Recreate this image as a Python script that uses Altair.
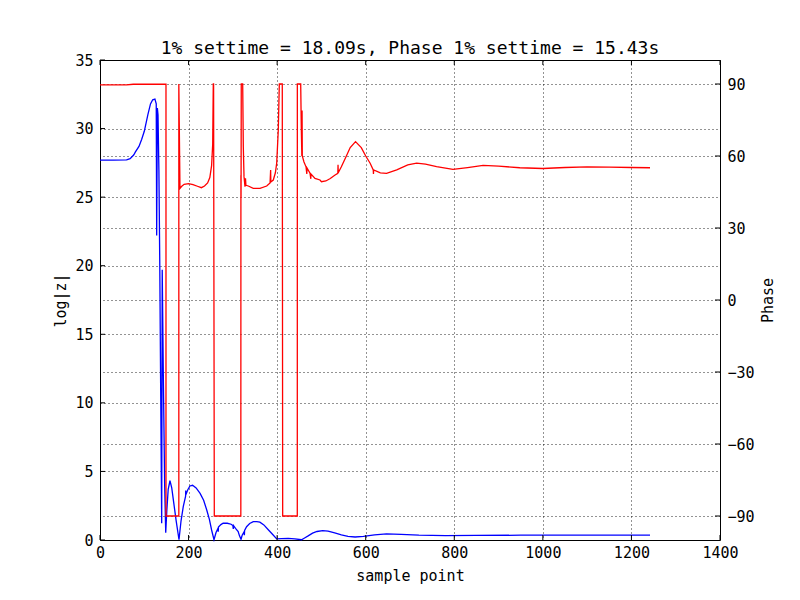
import altair as alt
import pandas as pd

# log|z| series (blue, left axis)
mag_x = [0, 30, 60, 68, 76, 80, 88, 94, 100, 108, 114, 119, 124, 127, 128, 129.5, 131,
         133, 135, 137, 139.3, 140.5, 143, 146, 148.4, 151, 154, 158, 162, 167, 172,
         178.4, 183, 188, 193.3, 193.5, 193.8, 198, 203, 209, 217, 226, 234, 241, 247,
         252, 257.4, 262, 266.5, 267, 267.5, 273, 278, 287.5, 296, 300, 301, 301.5,
         306, 312, 315, 318.4, 321, 325.5, 326, 326.5, 331, 338, 346, 354, 361, 370,
         380, 390, 399, 410, 425, 440, 455, 462, 470, 480, 490, 503, 515, 530, 545,
         560, 576, 595, 620, 647, 680, 720, 780, 850, 950, 1050, 1150, 1242]
mag_y = [27.7, 27.7, 27.72, 27.8, 28.07, 28.3, 28.7, 29.2, 29.8, 31.0, 31.8, 32.1, 32.15,
         31.8, 22.2, 31.5, 31.0, 27.0, 20.0, 11.0, 1.22, 19.7, 12.0, 4.0, 0.53, 2.2,
         3.7, 4.32, 3.8, 2.6, 1.4, 0.02, 1.4, 2.43, 3.2, 3.6, 3.3, 3.65, 3.94, 3.99,
         3.8, 3.4, 2.9, 2.19, 1.5, 0.73, 0.02, 0.55, 0.85, 0.6, 0.95, 1.12, 1.22, 1.22,
         1.15, 1.05, 0.8, 1.05, 0.85, 0.61, 0.3, 0.05, 0.35, 0.6, 0.35, 0.7, 0.97, 1.2,
         1.34, 1.34, 1.3, 1.1, 0.75, 0.4, 0.08, 0.1, 0.12, 0.08, 0.02, 0.15, 0.3, 0.5,
         0.62, 0.68, 0.64, 0.52, 0.38, 0.27, 0.22, 0.27, 0.37, 0.44, 0.41, 0.35, 0.32,
         0.33, 0.35, 0.35, 0.35, 0.35]

# Phase series (red, right axis)
ph_x = [0, 60, 75, 149, 149, 178, 178, 180.6, 184, 190, 200, 210, 220, 229, 236, 243,
        248, 252, 254.5, 255.8, 256.5, 258.1, 318, 318.2, 318.5, 319, 322.2, 323.6,
        325.2, 327.4, 328.5, 329.5, 334.9, 346, 361.3, 376.4, 384, 385.3, 385.8, 391.3,
        396, 399, 402.6, 404.9, 411.6, 412.5, 445.5, 445.6, 453.2, 454.5, 455.8, 456.3,
        456.8, 460.6, 465.2, 467, 467.5, 474.2, 476, 476.5, 485.5, 496.8, 500, 510, 520,
        530, 537, 537.5, 538, 545, 555, 565, 577, 590, 600, 610, 617, 617.5, 618, 633,
        647, 670, 695, 715, 735, 760, 797, 830, 865, 900, 948, 1000, 1050, 1100, 1150,
        1200, 1242]
ph_y = [89.6, 89.6, 89.9, 89.9, -90, -90, 90, 46.5, 47.3, 48.2, 48.5, 48.1, 47.4, 46.8,
        47.5, 48.8, 51, 56, 65, 90, 90, -90, -90, 52, 42.5, 90, 90, 63.9, 51.4, 47.2,
        50.7, 47.8, 47.5, 46.5, 46.5, 47.5, 48.8, 54.2, 49.2, 50, 53, 57, 70.8, 90, 90,
        -90, -90, 90, 90, 72, 60, 79, 60, 57.5, 55.5, 52.5, 55, 52.8, 50.5, 52.5, 50.7,
        50, 49.3, 49.6, 50.6, 52, 52.8, 56.3, 53, 55.5, 59.5, 63.5, 66, 63.5, 60, 57,
        54.2, 52.5, 54.2, 53, 52.8, 54.2, 56.3, 57, 56.6, 55.6, 54.4, 55.2, 56.1, 55.8,
        55.1, 54.8, 55.2, 55.5, 55.4, 55.2, 55.1]

x_ticks = [0, 200, 400, 600, 800, 1000, 1200, 1400]
mag_ticks = [0, 5, 10, 15, 20, 25, 30, 35]
ph_ticks = [-90, -60, -30, 0, 30, 60, 90]

FONT = "DejaVu Sans Mono"
W, H = 620, 480

mag_df = pd.DataFrame({"x": mag_x, "y": mag_y, "i": range(len(mag_x))})
ph_df = pd.DataFrame({"x": ph_x, "p": ph_y, "i": range(len(ph_x))})
xt_df = pd.DataFrame({"x": x_ticks})
mt_df = pd.DataFrame({"y": mag_ticks})
pt_df = pd.DataFrame({"p": ph_ticks})

xscale = alt.Scale(domain=[0, 1400], nice=False, zero=False)
mscale = alt.Scale(domain=[0, 35], nice=False)
pscale = alt.Scale(domain=[-100, 100], nice=False)

common_axis = dict(
    labelFont=FONT, labelFontSize=15, labelColor="black", labelFlush=False,
    titleFont=FONT, titleFontSize=15, titleColor="black", titleFontWeight="normal",
    domain=False, ticks=False, grid=True, gridColor="black", gridDash=[1, 3],
    gridWidth=1, gridOpacity=0.85, format="d",
)

x_axis = alt.Axis(values=x_ticks, title="sample point", labelPadding=5,
                  titlePadding=8, **common_axis)
m_axis = alt.Axis(values=mag_ticks, title="log|z|", orient="left",
                  labelPadding=7, titlePadding=6, **common_axis)
p_axis = alt.Axis(values=ph_ticks, title="Phase", orient="right", titleAngle=270,
                  titleBaseline="top",
                  labelPadding=7, titlePadding=6, **common_axis)

blue = alt.Chart(mag_df).mark_line(color="#0000ff", strokeWidth=1.3).encode(
    x=alt.X("x:Q", scale=xscale, axis=x_axis),
    y=alt.Y("y:Q", scale=mscale, axis=m_axis),
    order=alt.Order("i:Q"),
)

xt_bottom = alt.Chart(xt_df).mark_rule(color="black", strokeWidth=1).encode(
    x=alt.X("x:Q", scale=xscale, axis=x_axis), y=alt.value(H), y2=alt.value(H - 5))
xt_top = alt.Chart(xt_df).mark_rule(color="black", strokeWidth=1).encode(
    x=alt.X("x:Q", scale=xscale, axis=x_axis), y=alt.value(0), y2=alt.value(5))
mt = alt.Chart(mt_df).mark_rule(color="black", strokeWidth=1).encode(
    y=alt.Y("y:Q", scale=mscale, axis=m_axis), x=alt.value(0), x2=alt.value(5))

red = alt.Chart(ph_df).mark_line(color="#ff0000", strokeWidth=1.3).encode(
    x=alt.X("x:Q", scale=xscale, axis=x_axis),
    y=alt.Y("p:Q", scale=pscale, axis=p_axis),
    order=alt.Order("i:Q"),
)
pt = alt.Chart(pt_df).mark_rule(color="black", strokeWidth=1).encode(
    y=alt.Y("p:Q", scale=pscale, axis=p_axis), x=alt.value(W), x2=alt.value(W - 5))

left = alt.layer(blue, xt_bottom, xt_top, mt)
right = alt.layer(red, pt)

chart = alt.layer(left, right).resolve_scale(y="independent").properties(
    width=W, height=H,
    title=alt.TitleParams("1% settime = 18.09s, Phase 1% settime = 15.43s",
                          font=FONT, fontSize=18, fontWeight="normal", color="black",
                          anchor="middle", offset=6, dy=11),
    autosize=alt.AutoSizeParams(type="none"),
    padding={"left": 92, "top": 52, "right": 72, "bottom": 52},
    background="white",
).configure_view(stroke="black", strokeWidth=1, fill="white")

chart.save("out.html", embed_options={"renderer": "svg", "actions": False})
